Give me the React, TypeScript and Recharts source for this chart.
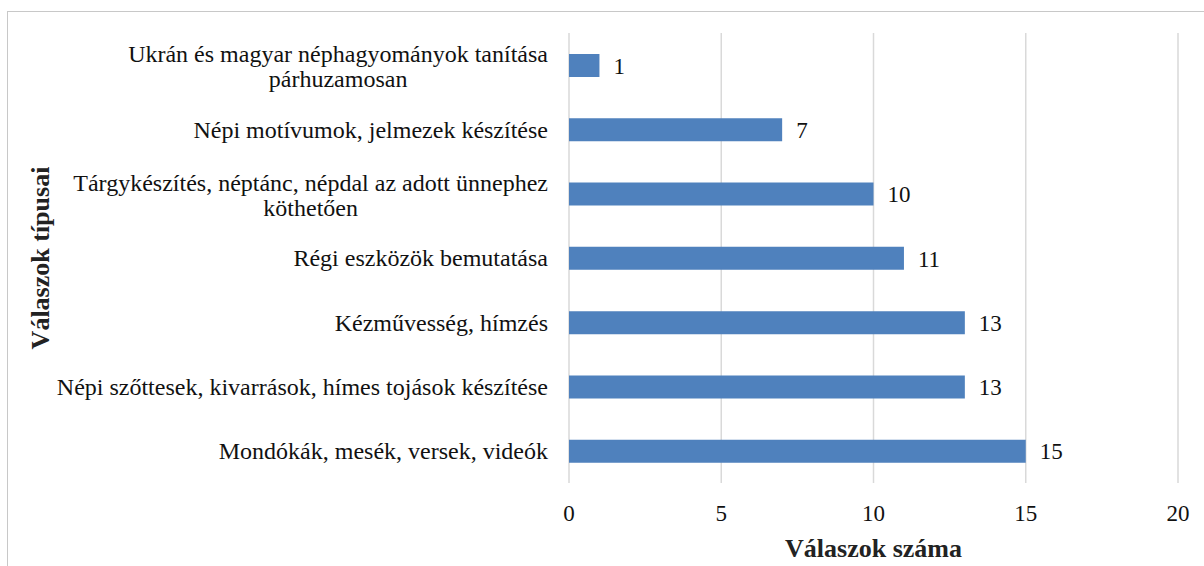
import React from 'react'
import { BarChart, Bar, XAxis, YAxis, CartesianGrid, LabelList, Label } from 'recharts'

// category labels, top to bottom ("\n" = wrapped line)
const categories = [
  'Ukrán és magyar néphagyományok tanítása\npárhuzamosan',
  'Népi motívumok, jelmezek készítése',
  'Tárgykészítés, néptánc, népdal az adott ünnephez\nköthetően',
  'Régi eszközök bemutatása',
  'Kézművesség, hímzés',
  'Népi szőttesek, kivarrások, hímes tojások készítése',
  'Mondókák, mesék, versek, videók',
]
const counts = [1, 7, 10, 11, 13, 13, 15]
const xTicks = [0, 5, 10, 15, 20]

const FONT = '"Liberation Serif", "Times New Roman", serif'
const LABEL_SIZE = 24
const TICK_SIZE = 23
const BAR_COLOR = '#4f81bd'

let ctx: CanvasRenderingContext2D | null = null
const textWidth = (s: string, size: number) => {
  if (!ctx) ctx = document.createElement('canvas').getContext('2d')
  if (!ctx) return s.length * size * 0.45
  ctx.font = `${size}px ${FONT}`
  return ctx.measureText(s).width
}

const CategoryTick = ({ x, y, payload }: any) => {
  const lines = String(payload.value).split('\n')
  const lineH = 25
  const dy = LABEL_SIZE * 0.35
  const style = { fontFamily: FONT, fontSize: LABEL_SIZE }
  if (lines.length === 1) {
    return (
      <text x={x} y={y} dy={dy} textAnchor="end" style={style} fill="#111">
        {lines[0]}
      </text>
    )
  }
  // wrapped labels are centred as a block, right edge on the tick position
  const w = Math.max(...lines.map((l) => textWidth(l, LABEL_SIZE)))
  const cx = x - w / 2
  const y0 = y + 1 - ((lines.length - 1) * lineH) / 2
  return (
    <text textAnchor="middle" style={style} fill="#111">
      {lines.map((l, i) => (
        <tspan key={i} x={cx} y={y0 + i * lineH} dy={dy}>
          {l}
        </tspan>
      ))}
    </text>
  )
}

const YTitle = ({ viewBox }: any) => {
  const cy = viewBox.y + viewBox.height / 2
  const cx = 40
  return (
    <text
      x={cx}
      y={cy}
      transform={`rotate(-90, ${cx}, ${cy})`}
      textAnchor="middle"
      dominantBaseline="central"
      style={{ fontFamily: FONT, fontSize: 26, fontWeight: 'bold' }}
      fill="#222"
    >
      Válaszok típusai
    </text>
  )
}

const App: React.FC = () => {
  const data = categories.map((name, i) => ({ name, value: counts[i] }))

  return (
    <div
      style={{
        position: 'absolute',
        left: 0,
        top: 0,
        width: 1204,
        height: 566,
        background: '#fff',
        overflow: 'hidden',
      }}
    >
      <div
        style={{
          position: 'absolute',
          left: 7,
          top: 11,
          width: 1300,
          height: 700,
          border: '1px solid #c8c8c8',
        }}
      />
      <BarChart
        width={1204}
        height={566}
        data={data}
        layout="vertical"
        margin={{ top: 33, right: 26, bottom: 0, left: 0 }}
      >
        <CartesianGrid horizontal={false} stroke="#d9d9d9" strokeWidth={1.5} />
        <XAxis
          type="number"
          domain={[0, 20]}
          ticks={xTicks}
          axisLine={false}
          tickLine={false}
          height={83}
          tickMargin={16}
          tick={{ fontSize: TICK_SIZE, fill: '#111', style: { fontFamily: FONT } }}
        >
          <Label
            value="Válaszok száma"
            position="insideBottom"
            offset={9}
            style={{ fontFamily: FONT, fontSize: 26, fontWeight: 'bold', fill: '#222' }}
          />
        </XAxis>
        <YAxis
          type="category"
          dataKey="name"
          width={569}
          axisLine={false}
          tickLine={false}
          tickMargin={15}
          interval={0}
          tick={<CategoryTick />}
        >
          <Label content={<YTitle />} />
        </YAxis>
        <Bar dataKey="value" fill={BAR_COLOR} barSize={23} isAnimationActive={false}>
          <LabelList
            dataKey="value"
            position="right"
            offset={14}
            fill="#111"
            fontSize={TICK_SIZE}
            style={{ fontFamily: FONT }}
          />
        </Bar>
      </BarChart>
    </div>
  )
}

export default App
